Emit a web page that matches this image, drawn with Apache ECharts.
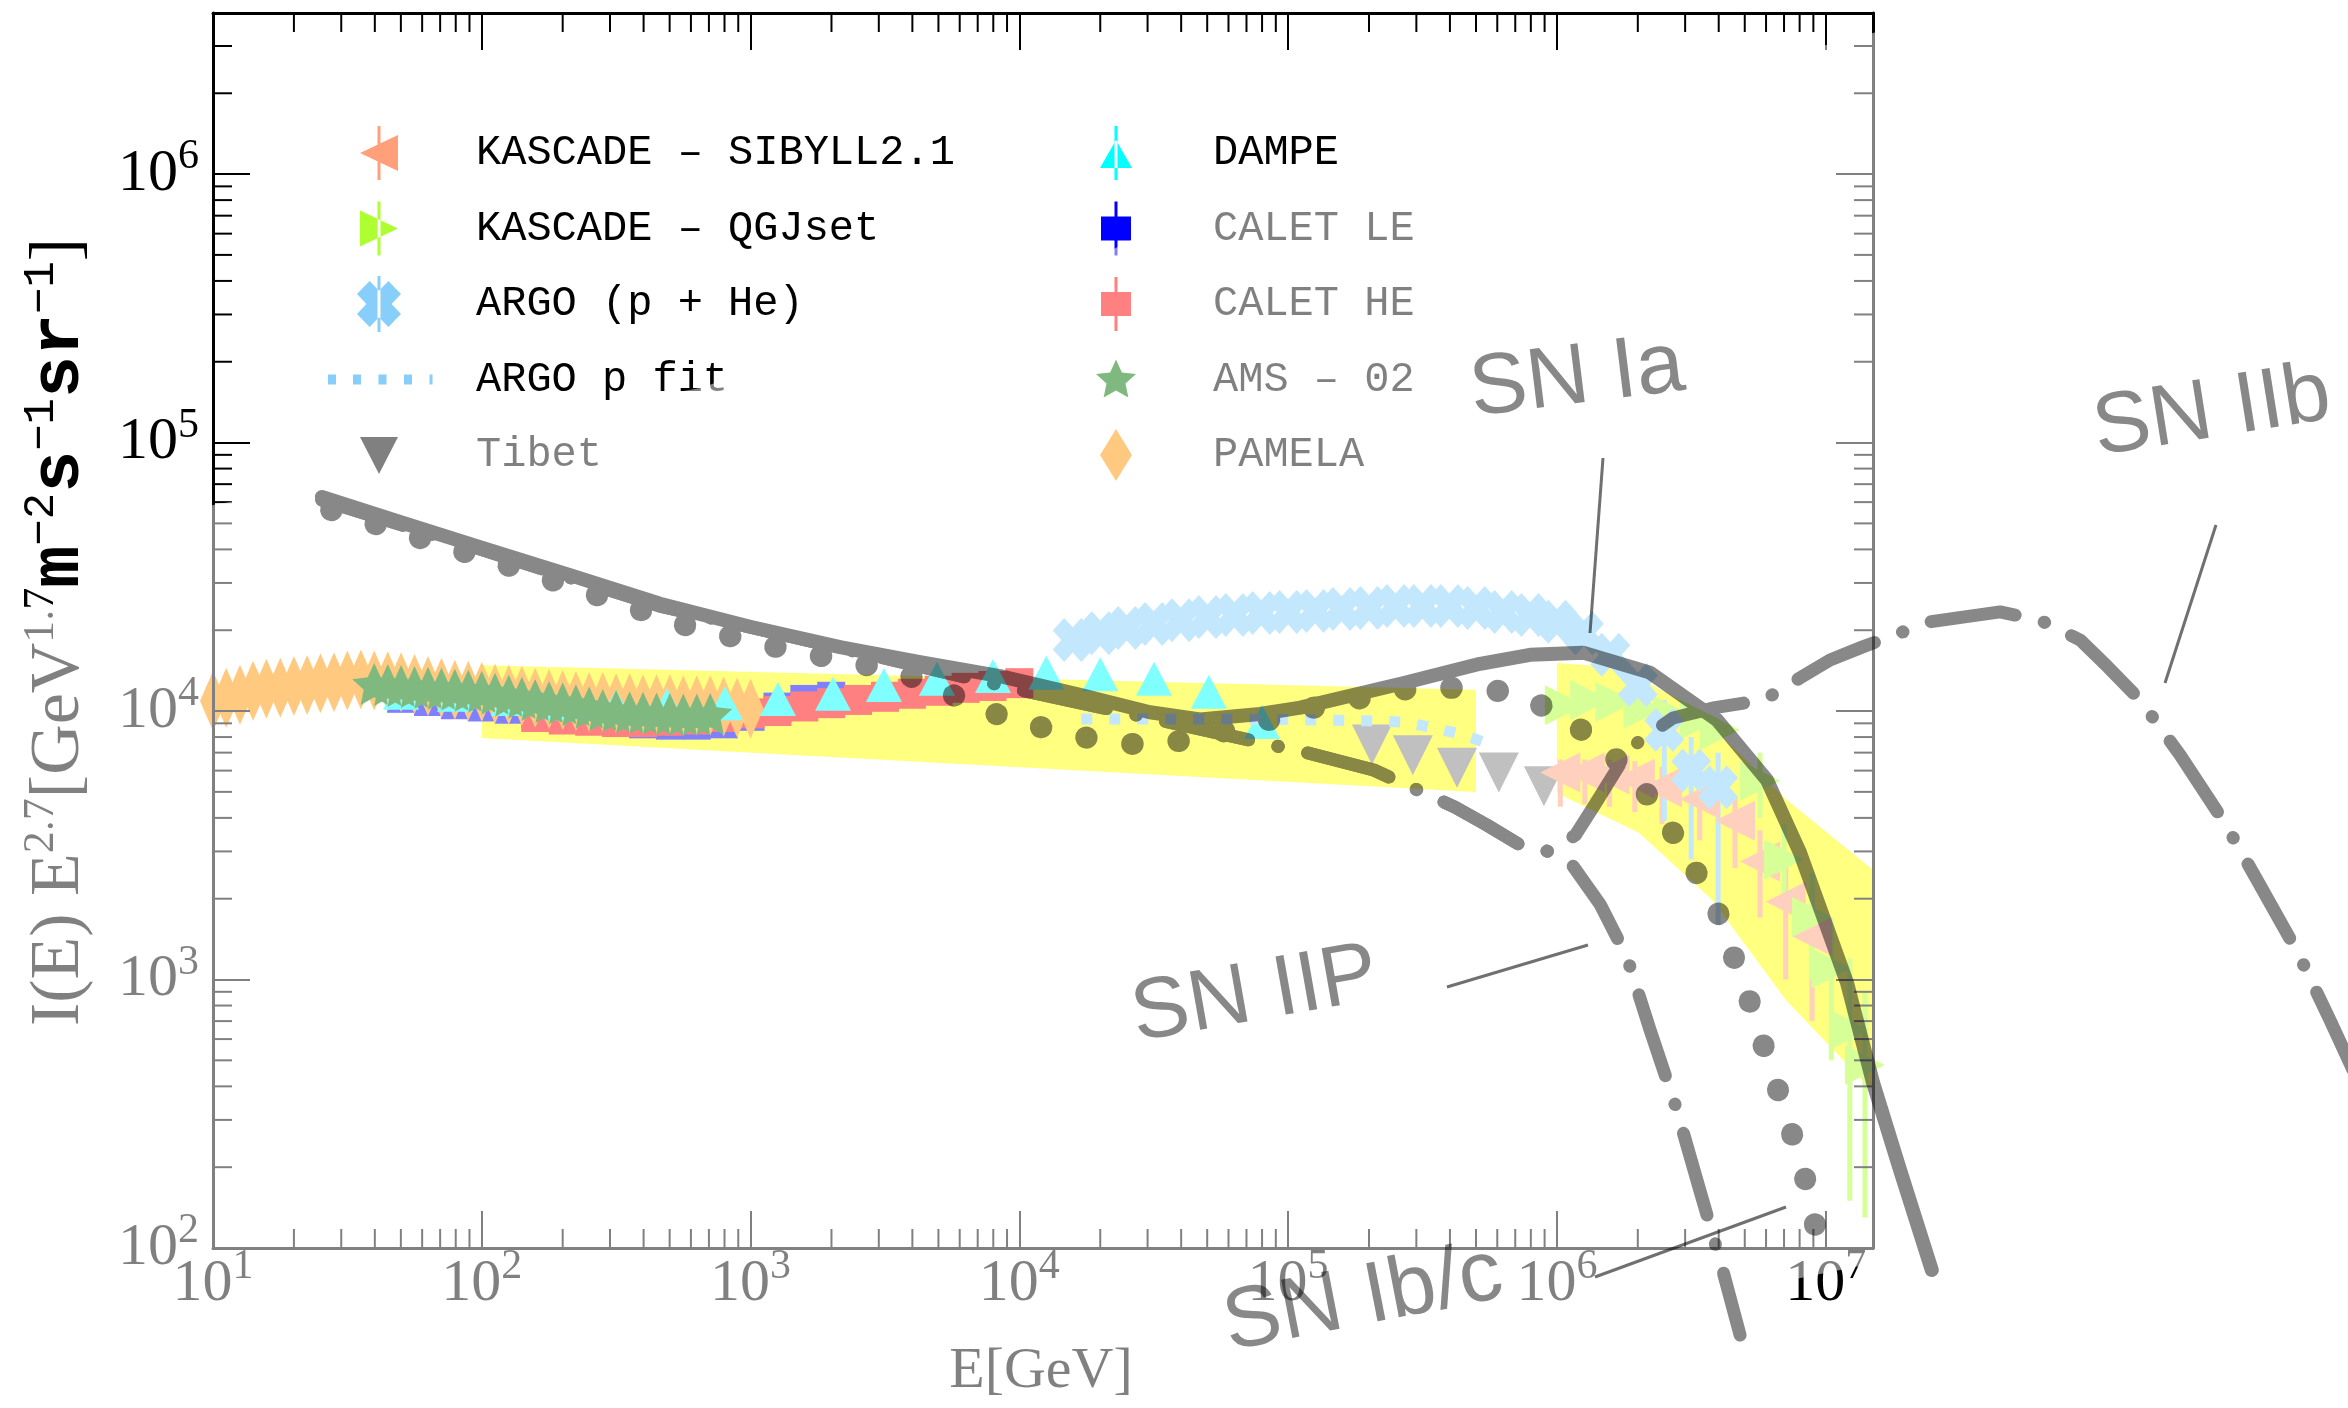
<!DOCTYPE html>
<html><head><meta charset="utf-8">
<script src="https://cdn.jsdelivr.net/npm/echarts@6/dist/echarts.min.js"></script>
<style>html,body{margin:0;padding:0;background:#fff;}#c{width:2348px;height:1408px;}</style>
</head><body><div id="c"></div>
<script>
// ---------- tick values ----------
const xMajorTicks = [10, 100, 1e3, 1e4, 1e5, 1e6, 1e7];
const yMajorTicks = [100, 1e3, 1e4, 1e5, 1e6];
const minorMantissa = [2, 3, 4, 5, 6, 7, 8, 9];

// ---------- measurements [E (GeV), E^2.7 I] ----------
const pamela = [[9,1.06e4],[10,1.09e4],[11.2,1.12e4],[12.6,1.15e4],[14.1,1.19e4],[15.8,1.21e4],[17.8,1.22e4],[20,1.24e4],[22.4,1.25e4],[25.1,1.27e4],[28.2,1.28e4],[31.6,1.3e4],[35.5,1.31e4],[39.8,1.3e4],[44.7,1.29e4],[50.1,1.28e4],[56.2,1.26e4],[63.1,1.24e4],[70.8,1.22e4],[79.4,1.2e4],[89.1,1.19e4],[100,1.18e4],[112,1.16e4],[126,1.15e4],[141,1.14e4],[158,1.12e4],[178,1.11e4],[200,1.1e4],[224,1.09e4],[251,1.08e4],[282,1.08e4],[316,1.07e4],[355,1.07e4],[398,1.06e4],[447,1.06e4],[501,1.06e4],[562,1.05e4],[631,1.05e4],[708,1.05e4],[794,1.04e4],[891,1.03e4],[1000,1.02e4]];
const ams02 = [[39.8,1.26e4],[44.7,1.25e4],[50.1,1.24e4],[56.2,1.23e4],[63.1,1.22e4],[70.8,1.21e4],[79.4,1.2e4],[89.1,1.19e4],[100,1.18e4],[112,1.16e4],[126,1.14e4],[141,1.12e4],[158,1.1e4],[178,1.08e4],[200,1.07e4],[224,1.05e4],[251,1.03e4],[282,1.01e4],[316,1.0e4],[355,9.9e3],[398,9.85e3],[447,9.8e3],[501,9.75e3],[562,9.7e3],[631,9.7e3],[708,9.75e3]];
const dampe = [[50.1,1.17e4],[79.4,1.15e4],[126,1.11e4],[200,1.07e4],[316,1.04e4],[489,1.05e4],[803,1.07e4],[1265,1.11e4],[2027,1.16e4],[3135,1.25e4],[4937,1.32e4],[7980,1.35e4],[1.26e4,1.39e4],[2.0e4,1.37e4],[3.17e4,1.32e4],[5.07e4,1.18e4],[8.0e4,9.1e3]];
const caletLE = [[50.1,1.12e4],[63.1,1.09e4],[79.4,1.06e4],[100,1.04e4],[126,1.02e4],[158,9.9e3],[200,9.6e3],[251,9.4e3],[316,9.2e3],[398,9.0e3],[501,8.9e3],[631,8.9e3],[794,9.0e3],[1000,9.6e3],[1259,1.03e4],[1585,1.1e4],[1995,1.13e4]];
const caletHE = [[158,9.5e3],[200,9.3e3],[251,9.2e3],[316,9.1e3],[398,9.1e3],[501,9.2e3],[631,9.3e3],[794,9.5e3],[1000,9.8e3],[1259,1.0e4],[1585,1.04e4],[1995,1.07e4],[2512,1.1e4],[3162,1.13e4],[3981,1.16e4],[5012,1.19e4],[6310,1.22e4],[7943,1.24e4],[1e4,1.27e4]];
const argo = [[1.58e4,1.84e4],[2.0e4,1.95e4],[2.51e4,2.04e4],[3.16e4,2.11e4],[3.98e4,2.18e4],[5.01e4,2.24e4],[6.31e4,2.28e4],[7.94e4,2.32e4],[1.0e5,2.34e4],[1.26e5,2.36e4],[1.58e5,2.4e4],[2.0e5,2.42e4],[2.51e5,2.46e4],[3.16e5,2.46e4],[3.98e5,2.46e4],[5.01e5,2.42e4],[6.31e5,2.34e4],[7.94e5,2.28e4],[1.0e6,2.15e4],[1.26e6,1.95e4],[1.58e6,1.62e4],[2.0e6,1.25e4],[2.51e6,8.5e3],[3.16e6,6.0e3],[3.98e6,5.2e3]];
const argoErr = [[2.51e6,3.9e3,1.1e4],[3.16e6,2.8e3,8.0e3],[3.98e6,1.6e3,7.0e3]];
const argoFit = [[1.7e4,9.35e3],[5e4,9.35e3],[1e5,9.3e3],[2e5,9.2e3],[2.7e5,9.1e3],[3.5e5,8.65e3],[4.5e5,8.15e3],[6e5,7.35e3]];
const tibet = [[2.05e5,7.5e3],[2.91e5,6.85e3],[4.25e5,6.15e3],[6.08e5,5.9e3],[8.95e5,5.25e3]];
const kascadeSib = [[1.03e6,5.9e3],[1.27e6,5.9e3],[1.57e6,5.8e3],[1.95e6,5.6e3],[2.46e6,5.2e3],[3.4e6,4.7e3],[4.6e6,3.9e3],[5.7e6,2.75e3],[7.1e6,1.95e3],[8.9e6,1.45e3]];
const kascadeSibErr = [[1.03e6,4.4e3,6.6e3],[1.27e6,4.5e3,6.6e3],[1.57e6,4.4e3,6.6e3],[1.95e6,4.2e3,6.5e3],[2.46e6,3.8e3,6.2e3],[3.4e6,3.3e3,5.7e3],[4.6e6,2.6e3,4.8e3],[5.7e6,1.7e3,3.6e3],[7.1e6,1.0e3,2.7e3],[8.9e6,700,2.1e3]];
const kascadeQGJ = [[1.07e6,1.05e4],[1.33e6,1.1e4],[1.65e6,1.08e4],[2.1e6,1.02e4],[2.7e6,9.6e3],[3.4e6,9.3e3],[4.04e6,8.5e3],[5.7e6,5.5e3],[7.0e6,2.8e3],[8.9e6,1.71e3],[1.05e7,1.1e3],[1.23e7,650],[1.4e7,480]];
const kascadeQGJErr = [[5.7e6,4.0e3,7.0e3],[7.0e6,1.8e3,3.8e3],[8.9e6,1.0e3,2.5e3],[1.05e7,500,1.7e3],[1.23e7,150,1.2e3],[1.4e7,130,900]];
// yellow bands: upper and lower edges
const band1Upper = [[100,1.48e4],[5e5,1.2e4]];
const band1Lower = [[100,7.94e3],[5e5,4.99e3]];
const band2Upper = [[1e6,1.51e4],[1.71e6,1.45e4],[2.87e6,1.1e4],[4.41e6,7.5e3],[7.1e6,4.7e3],[1.5e7,2.56e3]];
const band2Lower = [[1e6,4.95e3],[2.02e6,3.52e3],[3.78e6,1.98e3],[7.1e6,840],[1.33e7,434],[1.5e7,388]];

// ---------- supernova model curves (pasted overlay) ----------
const snIa = [[25.4,6.27e4],[49.6,5.06e4],[98.5,4.08e4],[213,3.21e4],[460,2.51e4],[995,2.06e4],[2151,1.73e4],[4268,1.52e4],[8472,1.35e4],[1.68e4,1.15e4],[3.06e4,9.9e3],[4.7e4,9.3e3],[7.85e4,9.75e3],[1.11e5,1.03e4],[2.67e5,1.27e4],[5.17e5,1.5e4],[7.94e5,1.62e4],[1.25e6,1.65e4],[2.22e6,1.39e4],[3.94e6,9.26e3],[6.04e6,5.54e3],[8.03e6,2.96e3],[1.2e7,971],[1.5e7,412],[1.89e7,195],[2.48e7,82.8]];
const snIbc = [[27.5,5.61e4],[58.9,4.41e4],[127,3.47e4],[275,2.68e4],[596,2.06e4],[1285,1.72e4],[3595,1.4e4],[9230,9.26e3],[1.944e4,7.8e3],[2.88e4,7.47e3],[4.24e4,7.8e3],[7.21e4,8.87e3],[1.313e5,1.044e4],[2.91e5,1.22e4],[5.17e5,1.22e4],[7.29e5,1.15e4],[9.42e5,1.01e4],[1.41e6,7.8e3],[1.98e6,5.54e3],[2.57e6,3.83e3],[3.21e6,2.63e3],[3.94e6,1.815e3],[4.52e6,1.234e3],[5.22e6,825],[5.89e6,561],[6.64e6,388],[7.55e6,259],[8.45e6,176],[9.43e6,104]];
const snCoreShared = [[25.4,6.11e4],[98.5,4.01e4],[460,2.46e4],[2151,1.72e4],[1.005e4,1.2e4],[3.45e4,9.18e3],[1.185e5,6.98e3],[2.08e5,6.03e3],[4.17e5,4.39e3],[5.49e5,3.76e3],[7.29e5,3.17e3],[9.42e5,2.99e3]];
const snIIPTail = [[1.14e6,2.67e3],[1.45e6,1.9e3],[1.82e6,1.213e3],[2.22e6,649],[2.77e6,335],[3.4e6,164],[4.04e6,90.2],[4.8e6,47.4]];
const snIIbTail = [[1.17e6,3.45e3],[1.38e6,4.47e3],[1.87e6,7.29e3],[2.7e6,9.42e3],[3.87e6,1.03e4],[5.89e6,1.1e4],[8.03e6,1.33e4],[1.037e7,1.55e4],[1.364e7,1.73e4],[2.44e7,2.15e4],[4.45e7,2.34e4],[6.27e7,2.18e4],[8.83e7,1.84e4],[1.12e8,1.46e4],[1.476e8,1.1e4],[2.08e8,6.86e3],[3.05e8,3.83e3],[4.12e8,2.25e3],[5.71e8,1.256e3],[7.51e8,707],[9.71e8,405]];
const snIIP = snCoreShared.concat(snIIPTail);
const snIIb = snCoreShared.concat(snIIbTail);

// ---------- derived tick lists ----------
const xMinor = [], yMinor = [];
xMajorTicks.forEach(d => minorMantissa.forEach(m => { if (d * m <= 1.5e7) xMinor.push(d * m); }));
yMajorTicks.forEach(d => minorMantissa.forEach(m => { if (d * m <= 3.98e6) yMinor.push(d * m); }));

// ---------- symbols / legend icons ----------
const CORNERS = ' M0 0 M144 56';
const BAR = 'M50.5 1 L53.5 1 L53.5 55 L50.5 55 Z ';
const starPath = 'M52 8 L57.88 20.91 L71.97 22.51 L61.51 32.09 L64.34 45.99 L52 39 L39.66 45.99 L42.49 32.09 L32.03 22.51 L46.12 20.91 Z';
const xPath = 'M42.6 51 L52 41.2 L61.4 51 L74 37.9 L64.6 28 L74 18.1 L61.4 5 L52 14.8 L42.6 5 L30 18.1 L39.4 28 L30 37.9 Z';
const icons = {
  sib: 'path://' + BAR + 'M33 28 L71 10 L71 46 Z' + CORNERS,
  qgj: 'path://' + BAR + 'M71 28 L33 10 L33 46 Z' + CORNERS,
  argo: 'path://M50.5 0 L53.5 0 L53.5 56 L50.5 56 Z ' + xPath + CORNERS,
  fit: 'path://M1 23 L9 23 L9 33 L1 33 Z M26 23 L34 23 L34 33 L26 33 Z M51.5 23 L59.5 23 L59.5 33 L51.5 33 Z M77 23 L85 23 L85 33 L77 33 Z M102.5 23 L105.5 23 L105.5 33 L102.5 33 Z' + CORNERS,
  tibet: 'path://M33 10 L71 10 L52 47 Z' + CORNERS,
  dampe: 'path://' + BAR + 'M36 43 L68 43 L52 15 Z' + CORNERS,
  calet: 'path://' + BAR + 'M37 16 L67 16 L67 40 L37 40 Z' + CORNERS,
  star: 'path://' + starPath + CORNERS,
  diamond: 'path://M52 2 L68 28 L52 54 L36 28 Z' + CORNERS
};

const C = {
  sib: '#ffa07a', qgj: '#adff2f', argo: '#87cefa', tibet: '#808080',
  dampe: '#00ffff', caletLE: '#0000ff', caletHE: '#ff0000', ams: '#007300', pamela: '#ff9500',
  band: '#ffff00', sn: '#888888'
};
const NAMES = {
  sib: 'KASCADE – SIBYLL2.1', qgj: 'KASCADE – QGJset', argo: 'ARGO (p + He)', fit: 'ARGO p fit', tibet: 'Tibet',
  dampe: 'DAMPE', caletLE: 'CALET LE', caletHE: 'CALET HE', ams: 'AMS – 02', pamela: 'PAMELA'
};

const chart = echarts.init(document.getElementById('c'), null, {renderer: 'canvas'});

const labelRich = {
  b: {fontFamily: 'Liberation Serif', fontSize: 60, lineHeight: 76, color: '#000'},
  s: {fontFamily: 'Liberation Serif', fontSize: 42, lineHeight: 44, verticalAlign: 'top', color: '#000'}
};
const fmtPow = v => '{b|10}{s|' + Math.round(Math.log10(v)) + '}';
const axisLineStyle = {show: true, onZero: false, lineStyle: {color: '#000', width: 3}};
const majorTick = {show: true, inside: true, length: 37, lineStyle: {color: '#000', width: 2}};

function scat(name, data, symbol, size, color, extra) {
  return Object.assign({
    type: 'scatter', name, data, symbol, symbolSize: size, xAxisIndex: 0, yAxisIndex: 0,
    itemStyle: {color, opacity: 1}, silent: true, animation: false, clip: true
  }, extra || {});
}
function errSeries(data, color, width) {
  return {
    type: 'custom', data, xAxisIndex: 0, yAxisIndex: 0, silent: true, animation: false, clip: true,
    encode: {x: 0, y: [1, 2]}, z: 2,
    renderItem: (params, api) => {
      const p1 = api.coord([api.value(0), api.value(1)]);
      const p2 = api.coord([api.value(0), api.value(2)]);
      return {type: 'line', shape: {x1: p1[0], y1: p1[1], x2: p2[0], y2: p2[1]}, style: {stroke: color, lineWidth: width}};
    }
  };
}
const bands = [{upper: band1Upper, lower: band1Lower}, {upper: band2Upper, lower: band2Lower}];
function snLine(data, type, width) {
  return {
    type: 'line', data, xAxisIndex: 2, yAxisIndex: 2, zlevel: 1, z: 2, symbol: 'none', silent: true, animation: false,
    lineStyle: {color: C.sn, width, type, cap: 'round', join: 'round'}
  };
}

const washPts = [[0,640],[60,600],[213,505],[379,476],[476,430],[700,388],[1100,256],[1200,205],[1873,33],[2348,-110],[2348,1167],[1100,1420],[0,1420]];

const yTitle = '{a|I(E) E}{s|2.7}{a|[GeV}{s|1.7}{m|m}{t|−2}{m|s}{t|−1}{m|sr}{t|−1}{a|]}';

function snText(text, x, y, deg) {
  return {type: 'text', zlevel: 1, z: 5, x, y, rotation: deg * Math.PI / 180, silent: true,
    style: {text, fill: '#888', font: '86px "Liberation Sans"', align: 'center', verticalAlign: 'middle',
      textAlign: 'center', textVerticalAlign: 'middle'}};
}
function snPtr(x1, y1, x2, y2) {
  return {type: 'line', zlevel: 1, z: 5, silent: true, shape: {x1, y1, x2, y2}, style: {stroke: '#707070', lineWidth: 3}};
}

const snDash = [85, 30, 0.5, 30];

const option = {
  backgroundColor: '#ffffff',
  animation: false,
  grid: [
    {left: 213, top: 13, width: 1660, height: 1235},
    {left: 213, top: 13, width: 2135, height: 1395}
  ],
  xAxis: [
    {gridIndex: 0, type: 'log', min: 10, max: 1.5e7, position: 'bottom', z: 10,
      axisLine: axisLineStyle, axisTick: majorTick, splitLine: {show: false}, minorTick: {show: false},
      axisLabel: {margin: -2, formatter: fmtPow, rich: labelRich, showMinLabel: true, showMaxLabel: false}},
    {gridIndex: 0, type: 'log', min: 10, max: 1.5e7, position: 'top', z: 10,
      axisLine: axisLineStyle, axisTick: majorTick, splitLine: {show: false}, axisLabel: {show: false}},
    {gridIndex: 1, type: 'log', min: 10, max: 8.765e8, show: false}
  ],
  yAxis: [
    {gridIndex: 0, type: 'log', min: 100, max: 3981071.7, position: 'left', z: 10,
      axisLine: axisLineStyle, axisTick: majorTick, splitLine: {show: false}, minorTick: {show: false},
      axisLabel: {margin: 14, formatter: fmtPow, rich: labelRich, showMinLabel: true, showMaxLabel: false}},
    {gridIndex: 0, type: 'log', min: 100, max: 3981071.7, position: 'right', z: 10,
      axisLine: axisLineStyle, axisTick: majorTick, splitLine: {show: false}, axisLabel: {show: false}},
    {gridIndex: 1, type: 'log', min: 25.36, max: 3981071.7, show: false}
  ],
  legend: [
    {data: [
        {name: NAMES.sib, icon: icons.sib}, {name: NAMES.qgj, icon: icons.qgj},
        {name: NAMES.argo, icon: icons.argo}, {name: NAMES.fit, icon: icons.fit},
        {name: NAMES.tibet, icon: icons.tibet}],
     orient: 'vertical', left: 327, top: 125, itemWidth: 144, itemHeight: 56, itemGap: 19.5, padding: 0,
     selectedMode: false, itemStyle: {borderWidth: 0},
     textStyle: {fontFamily: 'Liberation Mono', fontSize: 42, color: '#000'}},
    {data: [
        {name: NAMES.dampe, icon: icons.dampe}, {name: NAMES.caletLE, icon: icons.calet},
        {name: NAMES.caletHE, icon: icons.calet}, {name: NAMES.ams, icon: icons.star},
        {name: NAMES.pamela, icon: icons.diamond}],
     orient: 'vertical', left: 1064, top: 125, itemWidth: 144, itemHeight: 56, itemGap: 19.5, padding: 0,
     selectedMode: false, itemStyle: {borderWidth: 0},
     textStyle: {fontFamily: 'Liberation Mono', fontSize: 42, color: '#000'}}
  ],
  graphic: [
    {type: 'text', z: 5, x: 60, y: 632, rotation: Math.PI / 2, silent: true,
      style: {text: yTitle, align: 'center', verticalAlign: 'middle', textAlign: 'center', textVerticalAlign: 'middle',
        rich: {
          a: {fontFamily: 'Liberation Serif', fontSize: 70, lineHeight: 82, fill: '#000'},
          s: {fontFamily: 'Liberation Serif', fontSize: 44, lineHeight: 44, verticalAlign: 'top', fill: '#000'},
          m: {fontFamily: 'Liberation Mono', fontWeight: 'bold', fontSize: 70, lineHeight: 82, fill: '#000'},
          t: {fontFamily: 'Liberation Mono', fontSize: 44, lineHeight: 44, verticalAlign: 'top', fill: '#000'}
        }}},
    {type: 'text', z: 5, x: 1041, y: 1372, silent: true,
      style: {text: 'E[GeV]', font: '58px "Liberation Serif"', fill: '#000', align: 'center', verticalAlign: 'middle',
        textAlign: 'center', textVerticalAlign: 'middle'}},
    {type: 'polygon', z: 100, silent: true, shape: {points: washPts}, style: {fill: 'rgba(255,255,255,0.5)'}},
    snText('SN Ia', 1577, 379, 7),
    snText('SN IIb', 2212, 413, 9),
    snText('SN IIP', 1255, 996, 10),
    snText('SN Ib/c', 1363, 1300, 11),
    snPtr(1603, 458, 1590, 633),
    snPtr(2216, 525, 2165, 683),
    snPtr(1447, 987, 1588, 945),
    snPtr(1595, 1277, 1786, 1207)
  ],
  series: [
    {type: 'custom', name: 'band', data: [[100, 1e4], [1e6, 1e4]], xAxisIndex: 0, yAxisIndex: 0, z: 1,
      silent: true, animation: false, clip: true, encode: {x: 0, y: 1},
      renderItem: (params, api) => {
        const b = bands[params.dataIndex];
        const pts = b.upper.concat(b.lower.slice().reverse()).map(p => api.coord(p));
        return {type: 'polygon', shape: {points: pts}, style: {fill: C.band}};
      }},
    scat(NAMES.caletLE, caletLE, 'rect', [28, 30], C.caletLE),
    scat(NAMES.caletHE, caletHE, 'rect', [28, 30], C.caletHE),
    scat(NAMES.pamela, pamela, 'diamond', [26, 60], C.pamela),
    scat(NAMES.dampe, dampe, 'triangle', [36, 34], C.dampe),
    scat(NAMES.ams, ams02, 'path://' + starPath, [44, 42], C.ams),
    scat(NAMES.tibet, tibet, 'triangle', [40, 40], C.tibet, {symbolRotate: 180}),
    errSeries(kascadeSibErr, C.sib, 5),
    scat(NAMES.sib, kascadeSib, 'triangle', [40, 40], C.sib, {symbolRotate: 90}),
    errSeries(kascadeQGJErr, C.qgj, 5),
    scat(NAMES.qgj, kascadeQGJ, 'triangle', [40, 40], C.qgj, {symbolRotate: -90}),
    errSeries(argoErr, C.argo, 5),
    scat(NAMES.argo, argo, 'path://' + xPath, [40, 44], C.argo),
    {type: 'line', name: NAMES.fit, data: argoFit, xAxisIndex: 0, yAxisIndex: 0, symbol: 'none', showSymbol: false,
      silent: true, animation: false, itemStyle: {color: C.argo},
      lineStyle: {color: C.argo, width: 11, type: [11, 17], cap: 'butt'}},
    // minor ticks
    {type: 'custom', data: xMinor.map(v => [v, 1000]), xAxisIndex: 0, yAxisIndex: 0, z: 10, silent: true, animation: false,
      encode: {x: 0, y: 1},
      renderItem: (params, api) => {
        const x = api.coord([api.value(0), 1000])[0];
        const cs = params.coordSys;
        const st = {stroke: '#000', lineWidth: 2};
        return {type: 'group', children: [
          {type: 'line', shape: {x1: x, y1: cs.y + cs.height, x2: x, y2: cs.y + cs.height - 19}, style: st},
          {type: 'line', shape: {x1: x, y1: cs.y, x2: x, y2: cs.y + 19}, style: st}]};
      }},
    {type: 'custom', data: yMinor.map(v => [100, v]), xAxisIndex: 0, yAxisIndex: 0, z: 10, silent: true, animation: false,
      encode: {x: 0, y: 1},
      renderItem: (params, api) => {
        const y = api.coord([100, api.value(1)])[1];
        const cs = params.coordSys;
        const st = {stroke: '#000', lineWidth: 2};
        return {type: 'group', children: [
          {type: 'line', shape: {x1: cs.x, y1: y, x2: cs.x + 19, y2: y}, style: st},
          {type: 'line', shape: {x1: cs.x + cs.width, y1: y, x2: cs.x + cs.width - 19, y2: y}, style: st}]};
      }},
    // supernova overlay curves
    snLine(snIa, 'solid', 14),
    snLine(snIbc, [0.5, 46], 22),
    snLine(snIIP, snDash, 13),
    snLine(snIIb, snDash, 13)
  ]
};
chart.setOption(option);

function applyBlend() {
  document.querySelectorAll('#c canvas').forEach(cv => {
    const id = cv.getAttribute('data-zr-dom-id');
    if (id && id !== 'zr_0') cv.style.mixBlendMode = 'multiply';
  });
}
applyBlend();
chart.on('finished', applyBlend);
setTimeout(applyBlend, 0);
</script></body></html>
